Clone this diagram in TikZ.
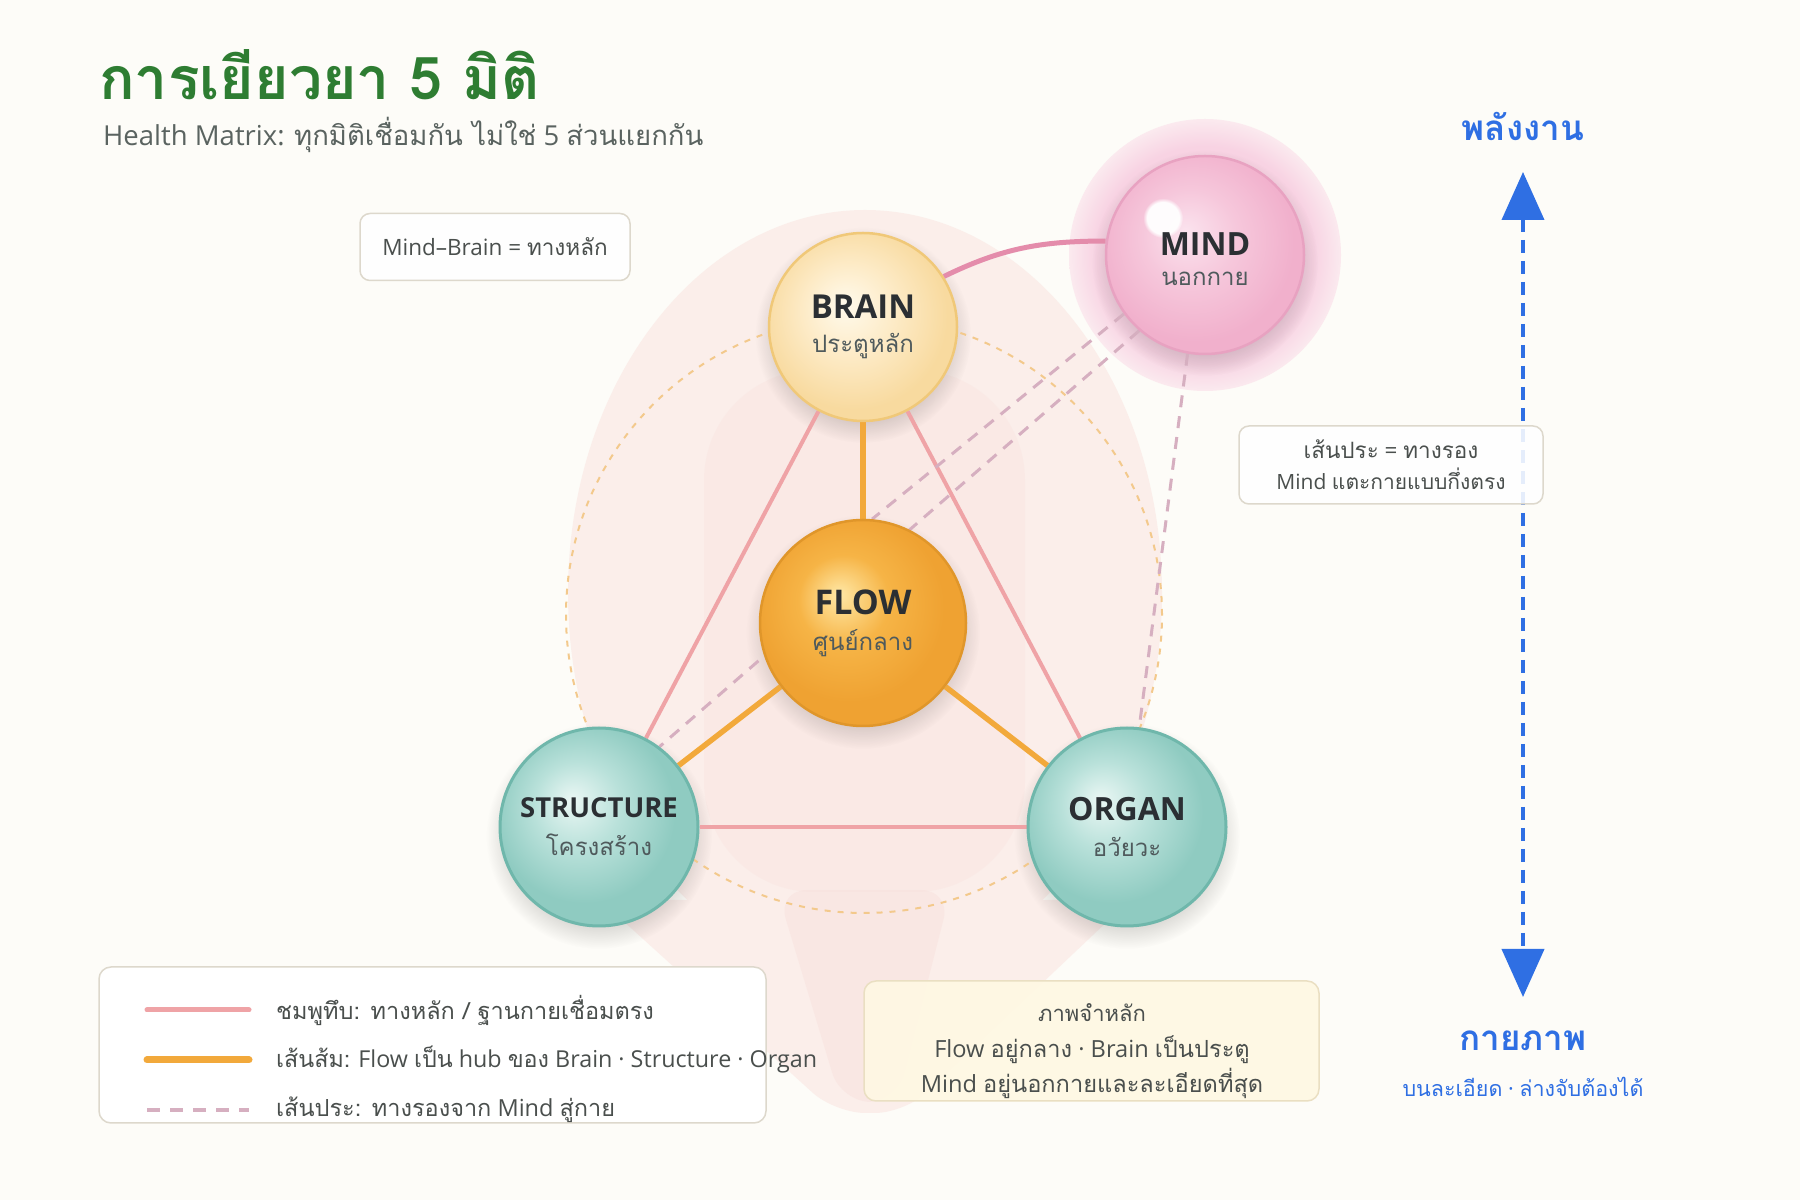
\documentclass[tikz,border=0pt]{standalone}
\usepackage{fontspec}
\setmainfont{Open Sans}
\newfontfamily\thf[Script=Thai]{Loma}
\usetikzlibrary{arrows.meta,fadings}
\newcommand\T[1]{{\thf #1}}
\newcommand\pxs[1]{\fontsize{#1}{#1}\selectfont}
\definecolor{bgc}{HTML}{FDFCF8}
\definecolor{titlegreen}{HTML}{2E7D32}
\definecolor{subgray}{HTML}{5A6360}
\definecolor{pinkline}{HTML}{EFA3A6}
\definecolor{orangeline}{HTML}{F2A93B}
\definecolor{dashline}{HTML}{D6AFC0}
\definecolor{mindline}{HTML}{E48CAB}
\definecolor{axisblue}{HTML}{2F6FE3}
\definecolor{boxborder}{HTML}{DDD8CC}
\definecolor{memfill}{HTML}{FFF8E3}
\definecolor{memborder}{HTML}{EADFC2}
\definecolor{darktext}{HTML}{2B2F33}
\definecolor{thaigray}{HTML}{4F5A5C}
\definecolor{boxtext}{HTML}{4A4F4D}
\definecolor{bodyc}{HTML}{F9DEDA}
\definecolor{bodyc2}{HTML}{F6D3CF}
\definecolor{halo}{HTML}{F8D3E3}
\definecolor{dotcirc}{HTML}{F3C98C}
\definecolor{tealhi}{HTML}{EAF7F4}
\definecolor{tealmid}{HTML}{B9E1DA}
\definecolor{tealedge}{HTML}{8FCBC1}
\definecolor{tealborder}{HTML}{6FB7AB}
\definecolor{flowhi}{HTML}{FFE8A6}
\definecolor{flowmid}{HTML}{F6B446}
\definecolor{flowedge}{HTML}{EFA232}
\definecolor{flowborder}{HTML}{E0962A}
\definecolor{brainhi}{HTML}{FFFAEC}
\definecolor{brainmid}{HTML}{FDEBC7}
\definecolor{brainedge}{HTML}{F8DA9F}
\definecolor{brainborder}{HTML}{F0C878}
\definecolor{mindhi}{HTML}{FBE3EE}
\definecolor{mindmid}{HTML}{F6C7DB}
\definecolor{mindedge}{HTML}{F1B0CC}
\definecolor{mindborder}{HTML}{E8A2C1}
\pgfdeclareradialshading{tealball}{\pgfpoint{-7bp}{7bp}}{color(0bp)=(tealhi); color(11bp)=(tealmid); color(23bp)=(tealedge); color(50bp)=(tealedge)}
\pgfdeclareradialshading{flowball}{\pgfpoint{-6bp}{7bp}}{color(0bp)=(flowhi); color(11bp)=(flowmid); color(23bp)=(flowedge); color(50bp)=(flowedge)}
\pgfdeclareradialshading{brainball}{\pgfpoint{-5bp}{6bp}}{color(0bp)=(brainhi); color(12bp)=(brainmid); color(25bp)=(brainedge); color(50bp)=(brainedge)}
\pgfdeclareradialshading{mindball}{\pgfpoint{-5bp}{6bp}}{color(0bp)=(mindhi); color(12bp)=(mindmid); color(25bp)=(mindedge); color(50bp)=(mindedge)}
\pgfdeclareradialshading{mindhalo}{\pgfpointorigin}{color(0bp)=(halo); color(20bp)=(halo); color(29bp)=(bgc); color(50bp)=(bgc)}
\pgfdeclarelayer{back}
\pgfdeclarelayer{edges}
\pgfsetlayers{back,edges,main}
\tikzset{
  ball/.style={circle, inner sep=0pt, align=center, line width=2.5pt},
  softshadow/.style={fill=black, opacity=0.13, path fading=circle with fuzzy edge 20 percent},
  pinkedge/.style={draw=pinkline, line width=4pt},
  orangeedge/.style={draw=orangeline, line width=5.5pt},
  mindedgeline/.style={draw=dashline, line width=3pt, dash pattern=on 12pt off 9pt},
  notebox/.style={draw=boxborder, line width=1.5pt, fill=white, fill opacity=0.88, text opacity=1, rounded corners=10pt, inner sep=0pt},
}
\begin{document}
\begin{tikzpicture}[x=1pt,y=1pt]
\useasboundingbox (0,0) rectangle (1800,1200);

% background and silhouette
\begin{pgfonlayer}{back}
\fill[bgc] (0,0) rectangle (1800,1200);
\begin{scope}[opacity=0.45, transparency group]
  \fill[bodyc] (865,607) ellipse [x radius=297, y radius=383];
  \fill[bodyc, rounded corners=30pt] (600,300) -- (1130,300) -- (905,87) -- (835,87) -- cycle;
\end{scope}
\fill[bodyc2, opacity=0.25, rounded corners=30pt] (777,310) -- (951,310) -- (897,98) -- (841,98) -- cycle;
\fill[bodyc2, opacity=0.15, rounded corners=110pt] (704,308) rectangle (1025,830);
\shade[shading=mindhalo] (1205,945) circle (136);
% soft shadows under the circles
\fill[softshadow] (863,865) circle (108);
\fill[softshadow] (1205,937) circle (113);
\fill[softshadow] (863,568) circle (117);
\fill[softshadow] (599,364) circle (113);
\fill[softshadow] (1127,364) circle (113);
\end{pgfonlayer}

% title
\node[anchor=west, inner sep=0pt, text=titlegreen] (title) at (99,1125) {\pxs{59}\bfseries\thf การเยียวยา 5 มิติ};
\node[anchor=west, inner sep=0pt, text=subgray] (subtitle) at (103,1065) {\pxs{27.5}Health Matrix: \T{ทุกมิติเชื่อมกัน ไม่ใช่} 5 \T{ส่วนแยกกัน}};

% nodes
\node[ball, minimum size=188pt, shading=brainball, draw=brainborder] (brain) at (863,873)
  {{\pxs{33}\bfseries\color{darktext}BRAIN}\\[14pt]{\pxs{24}\color{thaigray}\T{ประตูหลัก}}};
\node[ball, minimum size=198pt, shading=mindball, draw=mindborder] (mind) at (1205,945) {};
\fill[white, opacity=0.95, path fading=circle with fuzzy edge 20 percent] (1163,982) circle (20);
\node[align=center, inner sep=0pt] (mindlabel) at (1205,941)
  {{\pxs{32}\bfseries\color{darktext}MIND}\\[15pt]{\pxs{24}\color{thaigray}\T{นอกกาย}}};
\node[ball, minimum size=206pt, shading=flowball, draw=flowborder] (flow) at (863,577)
  {{\pxs{34}\bfseries\color{darktext}FLOW}\\[14pt]{\pxs{24}\color{thaigray}\T{ศูนย์กลาง}}};
\node[ball, minimum size=198pt, shading=tealball, draw=tealborder, line width=3pt] (structure) at (599,373)
  {{\pxs{27.5}\bfseries\color{darktext}STRUCTURE}\\[15pt]{\pxs{24}\color{thaigray}\T{โครงสร้าง}}};
\node[ball, minimum size=198pt, shading=tealball, draw=tealborder, line width=3pt] (organ) at (1127,373)
  {{\pxs{32}\bfseries\color{darktext}ORGAN}\\[15pt]{\pxs{24}\color{thaigray}\T{อวัยวะ}}};

% edges
\begin{pgfonlayer}{edges}
\draw[dotcirc, line width=2pt, dash pattern=on 6pt off 7pt] (864,585) circle (298);
\draw[pinkedge] (brain) -- (structure);
\draw[pinkedge] (brain) -- (organ);
\draw[pinkedge] (structure) -- (organ);
\draw[orangeedge] (flow) -- (brain);
\draw[orangeedge] (flow) -- (structure);
\draw[orangeedge] (flow) -- (organ);
\draw[mindedgeline] (mind.216) -- (flow.85);
\draw[mindedgeline] (mind.229) -- (structure.53);
\draw[mindedgeline] (mind.260) -- (organ.83);
\draw[draw=mindline, line width=5pt] (brain.32) to[out=26, in=180] (mind.172);
\end{pgfonlayer}

% energy axis
\coordinate (axtop) at (1523,1028);
\coordinate (axbot) at (1523,203);
\draw[axisblue, line width=4pt, dash pattern=on 13pt off 8pt,
  {Triangle[length=48pt,width=42pt]}-{Triangle[length=48pt,width=42pt]}] (axtop) -- (axbot);
\node[text=axisblue, inner sep=0pt] (energy) at (1523,1074) {\pxs{35}\bfseries\T{พลังงาน}};
\node[text=axisblue, inner sep=0pt] (physical) at (1523,159) {\pxs{35}\bfseries\T{กายภาพ}};
\node[text=axisblue, inner sep=0pt] (axisnote) at (1523,113) {\pxs{21.5}\T{บนละเอียด} · \T{ล่างจับต้องได้}};

% note boxes
\node[notebox, minimum width=270pt, minimum height=67pt, text=boxtext] (mbbox) at (495,953)
  {\pxs{22.5}Mind–Brain = \T{ทางหลัก}};
\node[notebox, minimum width=304pt, minimum height=78pt, text=boxtext, align=center] (dashbox) at (1391,735)
  {\pxs{22.5}\T{เส้นประ} = \T{ทางรอง}\\[8pt]\pxs{21}Mind \T{แตะกายแบบกึ่งตรง}};

% legend
\node[draw=boxborder, line width=1.5pt, fill=white, rounded corners=12pt, minimum width=667pt, minimum height=156pt, inner sep=0pt] (legend) at (432.5,155) {};
\coordinate (l1a) at (147,190); \coordinate (l1b) at (249,190);
\coordinate (l2a) at (147,140); \coordinate (l2b) at (249,140);
\coordinate (l3a) at (147,90);  \coordinate (l3b) at (249,90);
\draw[pinkline, line width=5pt, line cap=round] (l1a) -- (l1b);
\draw[orangeline, line width=7pt, line cap=round] (l2a) -- (l2b);
\draw[dashline, line width=3.5pt, dash pattern=on 13pt off 10pt] (l3a) -- (l3b);
\node[anchor=west, inner sep=0pt, text=boxtext] (leg1) at (276,190) {\pxs{23.5}\T{ชมพูทึบ: ทางหลัก / ฐานกายเชื่อมตรง}};
\node[anchor=west, inner sep=0pt, text=boxtext] (leg2) at (276,140) {\pxs{23.3}\T{เส้นส้ม:} Flow \T{เป็น} hub \T{ของ} Brain · Structure · Organ};
\node[anchor=west, inner sep=0pt, text=boxtext] (leg3) at (276,90) {\pxs{23.5}\T{เส้นประ: ทางรองจาก} Mind \T{สู่กาย}};

% memory box
\node[draw=memborder, line width=1.5pt, fill=memfill, fill opacity=0.92, text opacity=1, rounded corners=12pt, minimum width=455pt, minimum height=120pt, inner sep=0pt] (membox) at (1091.5,159) {};
\node[text=boxtext, inner sep=0pt] (mem1) at (1092,187) {\pxs{22}\T{ภาพจำหลัก}};
\node[text=boxtext, inner sep=0pt] (mem2) at (1092,150) {\pxs{23.6}Flow \T{อยู่กลาง} · Brain \T{เป็นประตู}};
\node[text=boxtext, inner sep=0pt] (mem3) at (1092,117) {\pxs{23.6}Mind \T{อยู่นอกกายและละเอียดที่สุด}};
\end{tikzpicture}
\end{document}
